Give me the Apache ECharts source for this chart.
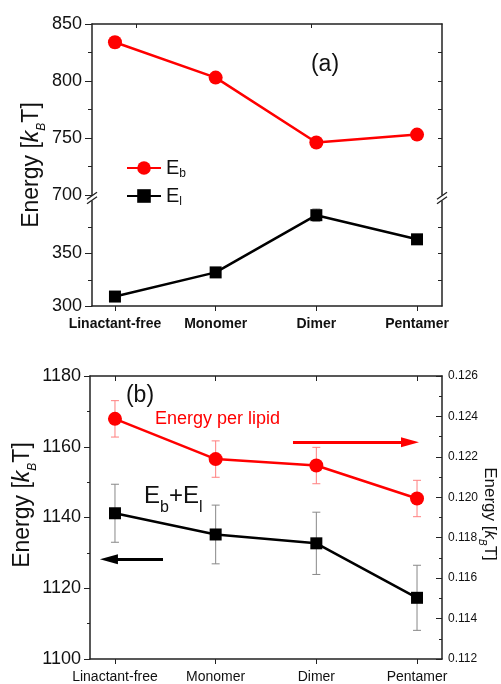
<!DOCTYPE html>
<html>
<head>
<meta charset="utf-8">
<title>Energy</title>
<script src="https://cdn.jsdelivr.net/npm/echarts@6.0.0/dist/echarts.min.js"></script>
<style>
  html, body { margin: 0; padding: 0; background: #fff; }
  #chart { width: 501px; height: 684px; }
</style>
</head>
<body>
<div id="chart"></div>
<script>
// categories (x positions 0..3)
var categories = ['Linactant-free', 'Monomer', 'Dimer', 'Pentamer'];
var catIndex = [0, 1, 2, 3];

// (a) E_b (upper part) and E_l (lower part), kBT
var ebValues = [834, 803, 746, 753];
var ebErrors = [5, 2, 2, 2];
var elValues = [309, 332, 386.5, 363.5];
var elErrors = [2, 2, 6, 2];

// (b) E_b+E_l (left axis) and energy per lipid (right axis)
var totalValues = [1141.2, 1135.2, 1132.7, 1117.3];
var totalErrors = [8.2, 8.3, 8.8, 9.2];
var perLipidValues = [0.12388, 0.12189, 0.12157, 0.11994];
var perLipidErrors = [0.0009, 0.0009, 0.0009, 0.0009];

// arrows in panel (b), data coords [x, y]
var leftArrow = [[0.477, 1128.2], [-0.06, 1128.2]];
var rightArrow = [[1.768, 0.12272], [2.93, 0.12272]];

var FONT = 'Liberation Sans, Arial, sans-serif';
var AX = '#222';

function pts(vals) {
  return vals.map(function (v, i) { return [catIndex[i], v]; });
}
function errs(vals, e) {
  return vals.map(function (v, i) { return [catIndex[i], v - e[i], v + e[i]]; });
}

function errorSeries(data, xi, yi, color) {
  return {
    type: 'custom', xAxisIndex: xi, yAxisIndex: yi, z: 1, silent: true,
    data: data,
    encode: { x: 0, y: [1, 2] },
    renderItem: function (params, api) {
      var x = api.value(0);
      var lo = api.coord([x, api.value(1)]);
      var hi = api.coord([x, api.value(2)]);
      var cap = 4;
      var st = { stroke: color, lineWidth: 1 };
      return {
        type: 'group', children: [
          { type: 'line', shape: { x1: lo[0], y1: lo[1], x2: hi[0], y2: hi[1] }, style: st },
          { type: 'line', shape: { x1: lo[0] - cap, y1: lo[1], x2: lo[0] + cap, y2: lo[1] }, style: st },
          { type: 'line', shape: { x1: hi[0] - cap, y1: hi[1], x2: hi[0] + cap, y2: hi[1] }, style: st }
        ]
      };
    }
  };
}

function xVal(grid, min, max, pos, opts) {
  return Object.assign({
    type: 'value', gridIndex: grid, min: min, max: max, position: pos,
    axisLine: { show: true, onZero: false, lineStyle: { color: AX, width: 1.5 } },
    axisTick: { show: false },
    axisLabel: { show: false },
    splitLine: { show: false }
  }, opts || {});
}

function yVal(grid, pos, opts) {
  return Object.assign({
    type: 'value', gridIndex: grid, position: pos,
    axisLine: { show: true, onZero: false, lineStyle: { color: AX, width: 1.5 } },
    splitLine: { show: false }
  }, opts);
}

function plain(v) { return String(v); }

var xLabelA = {
  show: true, customValues: catIndex, margin: 11,
  fontSize: 14, fontWeight: 'bold', fontFamily: FONT, color: '#111',
  formatter: function (v) { return categories[Math.round(v)]; }
};
var xLabelB = {
  show: true, customValues: catIndex, margin: 11,
  fontSize: 14, fontFamily: FONT, color: '#111',
  formatter: function (v) { return categories[Math.round(v)]; }
};

var yName = function (x, y, size, rot, sub) {
  return {
    type: 'text', x: x, y: y, rotation: rot, z: 10,
    style: {
      text: 'Energy [{k|k}{sub|B}T]', fontSize: size, fontFamily: FONT, fill: '#111',
      align: 'center', verticalAlign: 'middle', lineHeight: size + 9,
      rich: {
        k: { fontSize: size, fontStyle: 'italic', fontFamily: FONT, lineHeight: size + 9 },
        sub: { fontSize: sub, fontStyle: 'italic', fontFamily: FONT, verticalAlign: 'bottom', lineHeight: 8 }
      }
    }
  };
};

function breakMarks(x, y) {
  return [-2.2, 2.2].map(function (d) {
    return {
      type: 'line', z: 10,
      shape: { x1: x - 5, y1: y + d + 3.5, x2: x + 5, y2: y + d - 3.5 },
      style: { stroke: AX, lineWidth: 1.3 }
    };
  });
}

function arrow(pair, color) {
  return {
    silent: true, symbol: ['none', 'triangle'], symbolSize: 14,
    lineStyle: { color: color, width: 3, type: 'solid' },
    label: { show: false },
    data: [[{ coord: pair[0] }, { coord: pair[1], symbolSize: [10, 18] }]]
  };
}

var chart = echarts.init(document.getElementById('chart'));

var option = {
  animation: false,
  backgroundColor: '#fff',
  grid: [
    { left: 92, top: 24, width: 350, height: 171, outerBoundsMode: 'none' },
    { left: 92, top: 201, width: 350, height: 105, outerBoundsMode: 'none' },
    { left: 90, top: 376, width: 352, height: 283, outerBoundsMode: 'none' }
  ],
  legend: {
    orient: 'vertical', left: 126, top: 156, padding: 0, itemGap: 4,
    itemWidth: 34, itemHeight: 17, selectedMode: false,
    data: ['Eb', 'El'],
    formatter: function (n) { return n === 'Eb' ? 'E{sub|b}' : 'E{sub|l}'; },
    textStyle: {
      fontSize: 20, lineHeight: 24, fontFamily: FONT, color: '#111',
      rich: { sub: { fontSize: 12, lineHeight: 14, verticalAlign: 'bottom', fontFamily: FONT, color: '#111' } }
    }
  },
  xAxis: [
    xVal(0, -0.228, 3.248, 'top'),
    {
      type: 'category', gridIndex: 0, position: 'top', data: categories, boundaryGap: true,
      axisLine: { show: false },
      axisTick: { show: true, inside: true, alignWithLabel: true, length: 4, lineStyle: { color: AX } },
      axisLabel: { show: false }
    },
    xVal(1, -0.228, 3.248, 'bottom', {
      axisTick: { show: true, customValues: catIndex, length: 5, lineStyle: { color: AX } },
      axisLabel: xLabelA
    }),
    xVal(2, -0.248, 3.248, 'bottom', {
      axisTick: { show: true, customValues: catIndex, length: 5, lineStyle: { color: AX } },
      axisLabel: xLabelB
    }),
    xVal(2, -0.248, 3.248, 'top', {
      axisTick: { show: true, customValues: catIndex, inside: true, length: 5, lineStyle: { color: AX } }
    })
  ],
  yAxis: [
    yVal(0, 'left', {
      min: 700, max: 850, interval: 50,
      axisTick: { show: true, length: 7, lineStyle: { color: AX } },
      minorTick: { show: true, splitNumber: 2, length: 4, lineStyle: { color: AX } },
      axisLabel: { fontSize: 18, fontFamily: FONT, color: '#111', margin: 10, formatter: plain }
    }),
    yVal(0, 'right', {
      min: 700, max: 850, interval: 25,
      axisTick: { show: true, inside: true, length: 4, customValues: [725, 750, 775, 800, 825], lineStyle: { color: AX } },
      axisLabel: { show: false }
    }),
    yVal(1, 'left', {
      min: 300, max: 400, interval: 50,
      axisTick: { show: true, length: 7, customValues: [300, 350], lineStyle: { color: AX } },
      minorTick: { show: true, splitNumber: 2, length: 4, lineStyle: { color: AX } },
      axisLabel: { fontSize: 18, fontFamily: FONT, color: '#111', margin: 10, showMaxLabel: false, formatter: plain }
    }),
    yVal(1, 'right', {
      min: 300, max: 400, interval: 25,
      axisTick: { show: true, inside: true, length: 4, customValues: [325, 350, 375], lineStyle: { color: AX } },
      axisLabel: { show: false }
    }),
    yVal(2, 'left', {
      min: 1100, max: 1180, interval: 20,
      axisTick: { show: true, length: 6, lineStyle: { color: AX } },
      minorTick: { show: true, splitNumber: 2, length: 3, lineStyle: { color: AX } },
      axisLabel: { fontSize: 18, fontFamily: FONT, color: '#111', margin: 9, formatter: plain }
    }),
    yVal(2, 'right', {
      min: 0.112, max: 0.126, interval: 0.002,
      axisTick: { show: true, inside: true, length: 6, lineStyle: { color: AX } },
      minorTick: { show: true, splitNumber: 2, length: 3, lineStyle: { color: AX } },
      axisLabel: {
        fontSize: 12, fontFamily: FONT, color: '#111', margin: 6,
        formatter: function (v) { return v.toFixed(3); }
      }
    })
  ],
  series: [
    errorSeries(errs(ebValues, ebErrors), 0, 0, '#ff9a9a'),
    errorSeries(errs(elValues, elErrors), 2, 2, '#999'),
    {
      name: 'Eb', type: 'line', xAxisIndex: 0, yAxisIndex: 0, z: 3, silent: true,
      data: pts(ebValues), symbol: 'circle', symbolSize: 14,
      lineStyle: { color: '#ff0000', width: 2.5 }, itemStyle: { color: '#ff0000' }
    },
    {
      name: 'El', type: 'line', xAxisIndex: 2, yAxisIndex: 2, z: 3, silent: true,
      data: pts(elValues), symbol: 'rect', symbolSize: 12,
      lineStyle: { color: '#000', width: 2.5 }, itemStyle: { color: '#000' }
    },
    errorSeries(errs(totalValues, totalErrors), 3, 4, '#888'),
    errorSeries(errs(perLipidValues, perLipidErrors), 3, 5, '#ff7f7f'),
    {
      name: 'total', type: 'line', xAxisIndex: 3, yAxisIndex: 4, z: 3, silent: true,
      data: pts(totalValues), symbol: 'rect', symbolSize: 12,
      lineStyle: { color: '#000', width: 2.5 }, itemStyle: { color: '#000' },
      markLine: arrow(leftArrow, '#000')
    },
    {
      name: 'perLipid', type: 'line', xAxisIndex: 3, yAxisIndex: 5, z: 3, silent: true,
      data: pts(perLipidValues), symbol: 'circle', symbolSize: 14,
      lineStyle: { color: '#ff0000', width: 2.5 }, itemStyle: { color: '#ff0000' },
      markLine: arrow(rightArrow, '#ff0000')
    }
  ],
  graphic: [
    { type: 'text', x: 325, y: 65, z: 10, style: { text: '(a)', fontSize: 23, fontFamily: FONT, fill: '#111', align: 'center', verticalAlign: 'middle' } },
    { type: 'text', x: 140, y: 396, z: 10, style: { text: '(b)', fontSize: 23, fontFamily: FONT, fill: '#111', align: 'center', verticalAlign: 'middle' } },
    { type: 'text', x: 155, y: 419, z: 10, style: { text: 'Energy per lipid', fontSize: 18, fontFamily: FONT, fill: '#ff0000', align: 'left', verticalAlign: 'middle' } },
    {
      type: 'text', x: 144, y: 496, z: 10,
      style: {
        text: 'E{sub|b}+E{sub|l}', fontSize: 24, fontFamily: FONT, fill: '#111',
        align: 'left', verticalAlign: 'middle', lineHeight: 40,
        rich: { sub: { fontSize: 16, fontFamily: FONT, verticalAlign: 'bottom', lineHeight: 16 } }
      }
    },
    yName(32, 165, 23, Math.PI / 2, 12),
    yName(23, 505, 23, Math.PI / 2, 12),
    yName(490, 514, 17, -Math.PI / 2, 10)
  ].concat(breakMarks(92, 198), breakMarks(442, 198))
};

chart.setOption(option);
</script>
</body>
</html>
